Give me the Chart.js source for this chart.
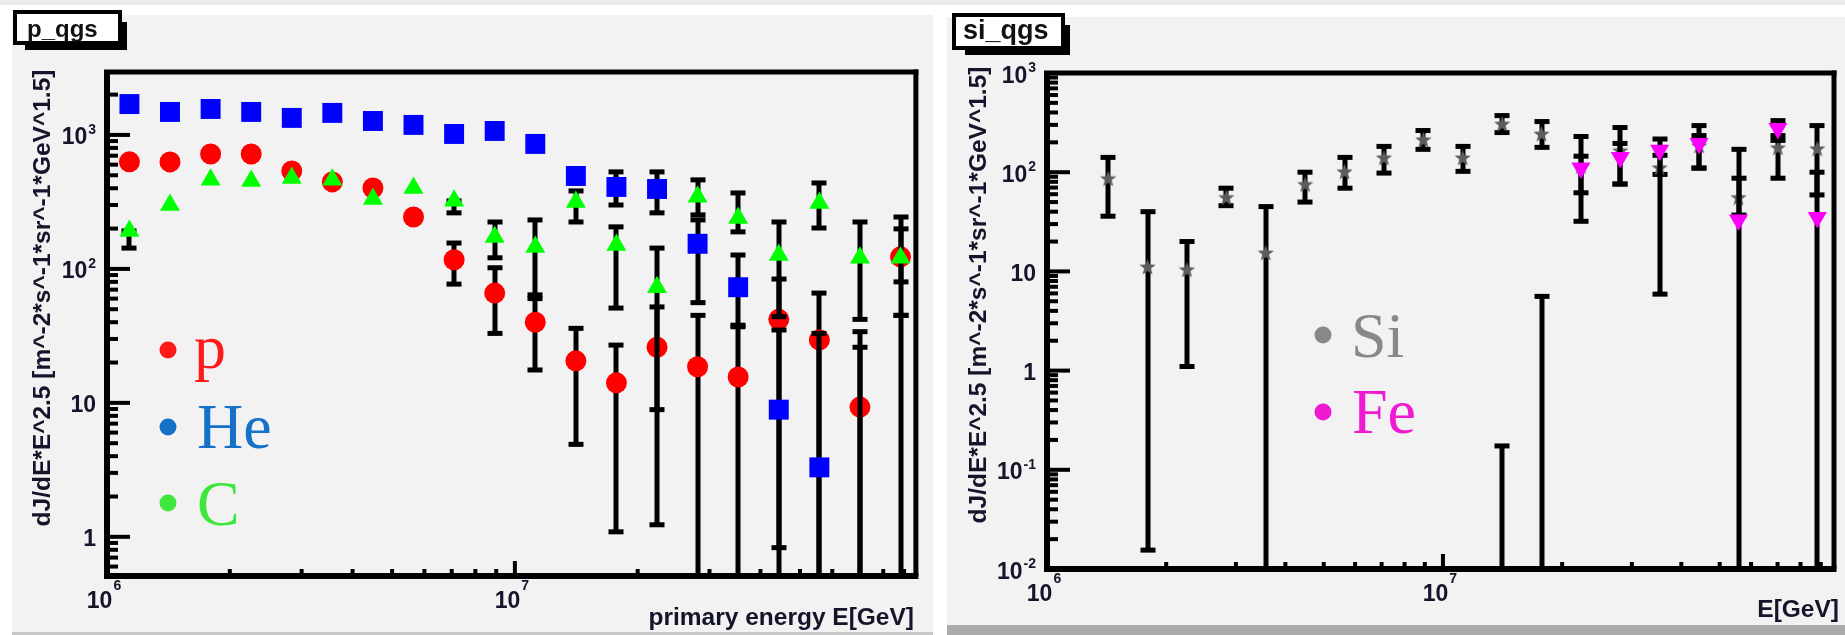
<!DOCTYPE html>
<html>
<head>
<meta charset="utf-8">
<script src="https://cdn.jsdelivr.net/npm/chart.js@4.4.1/dist/chart.umd.min.js"></script>
<style>
  body { margin: 0; width: 1845px; height: 635px; background: #fff; position: relative; overflow: hidden; }
  .band { position: absolute; }
  canvas { position: absolute; top: 0; }
</style>
</head>
<body>
<div class="band" style="left:0;top:0;width:1845px;height:5px;background:#ececec"></div>
<div class="band" style="left:12px;top:15px;width:921px;height:617px;background:#f2f2f2"></div>
<div class="band" style="left:12px;top:632px;width:921px;height:3px;background:#c8c8c8"></div>
<div class="band" style="left:947px;top:17px;width:898px;height:608px;background:#f2f2f2"></div>
<div class="band" style="left:947px;top:625px;width:898px;height:10px;background:#ababab"></div>
<canvas id="left" width="930" height="635" style="left:0"></canvas>
<canvas id="right" width="915" height="635" style="left:930px"></canvas>
<script>
// bin centres, primary energy [GeV]
const energy = [1.135e6, 1.427e6, 1.795e6, 2.257e6, 2.838e6, 3.568e6, 4.487e6, 5.642e6, 7.096e6, 8.923e6,
                1.122e7, 1.411e7, 1.774e7, 2.231e7, 2.805e7, 3.527e7, 4.436e7, 5.578e7, 7.015e7, 8.82e7];

// p_qgs pad. Hi/Lo are the error bar ends, 0 = bar runs down to the frame
const pFlux  = [630, 629, 721, 721, 539, 446, 402, 244, 117, 66, 40, 20.6, 14.1, 26, 18.6, 15.6, 42, 29.5, 9.3, 123];
const pHi    = [null, null, null, null, null, null, null, null, 156, 102, 60, 36, 27, 52, 45, 37, 84, 66, 34, 244];
const pLo    = [null, null, null, null, null, null, null, null, 77, 33, 17.6, 4.9, 1.09, 1.23, 0, 0, 0, 0, 0, 80];
const heFlux = [1700, 1485, 1563, 1485, 1340, 1460, 1271, 1188, 1017, 1071, 857, 494, 409, 395, 154, 73, 8.9, 3.3, null, null];
const heHi   = [null, null, null, null, null, null, null, null, null, null, null, 530, 530, 530, 232, 127, 35, 33, 26, 45];
const heLo   = [null, null, null, null, null, null, null, null, null, null, null, 438, 300, 262, 56, 38, 0.83, 0, 0, 0];
const cFlux  = [192, 300, 462, 454, 478, 462, 333, 402, 322, 173, 146, 316, 151, 73, 345, 240, 127, 311, 121, 121];
const cHi    = [192, null, null, null, null, null, null, null, 322, 224, 232, 382, 206, 143, 462, 369, 224, 438, 224, 199];
const cLo    = [143, null, null, null, null, null, null, null, 262, 121, 64, 224, 51, 8.9, 253, 189, 44, 202, 42, 45];

// si_qgs pad
const siFlux = [null, 87, 11.2, 10.5, 56, 15.5, 76, 102, 141, 214, 141, 309, 245, 115, 166, 112, 186, 56, 178, 174];
const siHi   = [null, 141, 40, 20, 69, 45, 100, 141, 182, 263, 182, 372, 324, 229, 282, 148, 295, 87, 234, 295];
const siLo   = [null, 36, 0.0155, 1.1, 46, 0, 50, 69, 98, 170, 102, 251, 178, 62, 76, 95, 110, 37, 87, 59];
const feFlux = [null, null, null, null, null, null, null, null, null, null, null, null, null, 110, 141, 166, 195, 33, 275, 35];
const feHi   = [null, null, null, null, null, null, null, null, null, null, null, 0.174, 5.6, 145, 195, 216, 234, 170, 331, 100];
const feLo   = [null, null, null, null, null, null, null, null, null, null, null, 0, 0, 32, 76, 5.9, 110, 0, 209, 0];

// axis labels
const xTicks = [1e6, 1e7];
const xTickLabels = ['10^6', '10^7'];
const leftYTicks = [1, 10, 100, 1000];
const leftYTickLabels = ['1', '10', '10^2', '10^3'];
const rightYTicks = [0.01, 0.1, 1, 10, 100, 1000];
const rightYTickLabels = ['10^-2', '10^-1', '1', '10', '10^2', '10^3'];
const yTitle = 'dJ/dE*E^2.5 [m^-2*s^-1*sr^-1*GeV^1.5]';

const leftSpecies = ['p', 'He', 'C'];
const leftLegendColors = ['#ff1a1a', '#1570c8', '#3ee63e'];
const rightSpecies = ['Si', 'Fe'];
const rightLegendColors = ['#888888', '#f01ad2'];

const SANS = '"Liberation Sans", Arial, sans-serif';
const INK = '#14142a';

function starMarker(size, color) {
  const c = document.createElement('canvas');
  c.width = c.height = size;
  const g = c.getContext('2d');
  g.fillStyle = color;
  g.beginPath();
  for (let i = 0; i < 10; i++) {
    const r = i % 2 ? size * 0.21 : size / 2;
    const a = -Math.PI / 2 + i * Math.PI / 5;
    g.lineTo(size / 2 + r * Math.cos(a), size / 2 + 1 + r * Math.sin(a));
  }
  g.closePath();
  g.fill();
  return c;
}

function series(label, flux, hi, lo, style) {
  return Object.assign({
    label,
    data: energy.map((x, i) => ({ x, y: flux[i] })),
    errHi: hi,
    errLo: lo,
    pointBorderWidth: 0,
  }, style);
}

function drawErrors(chart, ds) {
  if (!ds.errHi) return;
  const { ctx, chartArea: a, scales: { x, y } } = chart;
  ctx.save();
  ctx.beginPath();
  ctx.rect(a.left, a.top, a.right - a.left, a.bottom - a.top);
  ctx.clip();
  ctx.fillStyle = '#000';
  ds.errHi.forEach((hi, i) => {
    const lo = ds.errLo[i];
    if (hi == null || lo == null) return;
    const px = Math.round(x.getPixelForValue(ds.data[i].x));
    const top = y.getPixelForValue(hi);
    const bot = lo > 0 ? y.getPixelForValue(lo) : a.bottom;
    ctx.fillRect(px - 2.5, top, 5, bot - top);
    ctx.fillRect(px - 7.5, top - 2.5, 15, 5);
    if (lo > 0) ctx.fillRect(px - 7.5, bot - 2.5, 15, 5);
  });
  ctx.restore();
}

function eachLogTick(scale, fn) {
  const e0 = Math.floor(Math.log10(scale.min) + 1e-9);
  const e1 = Math.floor(Math.log10(scale.max) + 1e-9);
  for (let e = e0; e <= e1; e++) {
    for (let m = 1; m <= 9; m++) {
      const v = m * Math.pow(10, e);
      if (v >= scale.min * 0.999 && v <= scale.max * 1.001) fn(v, m === 1);
    }
  }
}

// "10^3" -> 10 with a raised 3
function powText(ctx, text, x, baseY, align, raise) {
  const [base, exp] = text.split('^');
  ctx.font = 'bold 23px ' + SANS;
  const bw = ctx.measureText(base).width;
  ctx.font = 'bold 14px ' + SANS;
  const ew = exp ? ctx.measureText(exp).width + 1 : 0;
  const x0 = align === 'right' ? x - bw - ew : x - (bw + ew) / 2;
  ctx.textAlign = 'left';
  ctx.textBaseline = 'alphabetic';
  ctx.font = 'bold 23px ' + SANS;
  ctx.fillText(base, x0, baseY);
  if (exp) {
    ctx.font = 'bold 14px ' + SANS;
    ctx.fillText(exp, x0 + bw + 1, baseY - raise);
  }
}

function drawFrame(chart, pad) {
  const { ctx, chartArea: a, scales: { x, y } } = chart;
  ctx.save();
  ctx.fillStyle = '#000';
  eachLogTick(y, (v, major) => {
    ctx.fillRect(a.left, y.getPixelForValue(v) - 2, major ? 23 : 11, 4);
  });
  eachLogTick(x, (v, major) => {
    const len = major ? 15 : 7;
    ctx.fillRect(x.getPixelForValue(v) - 2, a.bottom - len, 4, len);
  });
  ctx.fillRect(a.left - 3, a.top, 6, a.bottom - a.top + 3);
  ctx.fillRect(a.left - 3, a.bottom - 3, a.right - a.left + 5.5, 6);
  ctx.fillRect(a.left - 3, a.top - 2.5, a.right - a.left + 5.5, 5);
  ctx.fillRect(a.right - 2.5, a.top - 2.5, 5, a.bottom - a.top + 2.5);

  ctx.fillStyle = INK;
  pad.yTicks.forEach((v, i) => powText(ctx, pad.yLabels[i], a.left - 11, y.getPixelForValue(v) + 9.5, 'right', 10.5));
  xTicks.forEach((v, i) => powText(ctx, xTickLabels[i], x.getPixelForValue(v) - 3, a.bottom + 32, 'center', 18));

  ctx.font = 'bold 24.5px ' + SANS;
  ctx.textAlign = 'right';
  ctx.textBaseline = 'alphabetic';
  ctx.fillText(pad.xTitle, pad.xTitleAt[0], pad.xTitleAt[1]);
  ctx.save();
  ctx.translate(pad.yTitleAt[0], pad.yTitleAt[1]);
  ctx.rotate(-Math.PI / 2);
  ctx.textAlign = 'center';
  ctx.textBaseline = 'middle';
  ctx.fillText(yTitle, 0, 0);
  ctx.restore();
  ctx.restore();
}

function drawDecor(chart, pad) {
  const ctx = chart.ctx;
  const b = pad.box;
  ctx.save();
  ctx.fillStyle = '#000';
  ctx.fillRect(b.shadow[0], b.shadow[1], b.shadow[2], b.shadow[3]);
  ctx.fillRect(b.x, b.y, b.w, b.h);
  ctx.fillStyle = '#fff';
  ctx.fillRect(b.x + 4, b.y + 4, b.w - 8, b.h - 8);
  ctx.fillStyle = '#111';
  ctx.font = 'bold ' + b.size + 'px ' + SANS;
  ctx.textAlign = 'left';
  ctx.textBaseline = 'alphabetic';
  ctx.fillText(pad.title, b.tx, b.ty);

  // hand-written style legend
  ctx.font = '64px "Liberation Serif", "DejaVu Serif", serif';
  pad.legend.forEach((name, i) => {
    const e = pad.legendAt[i];
    ctx.fillStyle = pad.legendColors[i];
    ctx.beginPath();
    ctx.arc(e[0], e[1], 8.5, 0, Math.PI * 2);
    ctx.fill();
    ctx.fillText(name, e[2], e[3]);
  });
  ctx.restore();
}

function padChart(id, datasets, pad) {
  return new Chart(document.getElementById(id), {
    type: 'scatter',
    data: { datasets },
    options: {
      responsive: false,
      animation: false,
      devicePixelRatio: 1,
      events: [],
      layout: { padding: pad.padding },
      plugins: { legend: { display: false }, tooltip: { enabled: false } },
      scales: {
        x: { type: 'logarithmic', display: false, bounds: 'data', min: pad.xMin, max: pad.xMax },
        y: { type: 'logarithmic', display: false, bounds: 'data', min: pad.yMin, max: pad.yMax },
      },
    },
    plugins: [{
      id: 'rootPad',
      beforeDatasetDraw(chart, args) { drawErrors(chart, chart.data.datasets[args.index]); },
      afterDatasetsDraw(chart) { drawFrame(chart, pad); },
      afterDraw(chart) { drawDecor(chart, pad); },
    }],
  });
}

// first dataset is drawn on top
padChart('left', [
  series('C', cFlux, cHi, cLo, { pointStyle: 'triangle', pointRadius: 11.5, pointBackgroundColor: '#00ff00' }),
  series('He', heFlux, heHi, heLo, { pointStyle: 'rect', pointRadius: 14.1, pointBackgroundColor: '#0000ff' }),
  series('p', pFlux, pHi, pLo, { pointStyle: 'circle', pointRadius: 10.5, pointBackgroundColor: '#ff0000' }),
], {
  padding: { left: 107, top: 72, right: 14, bottom: 59 },
  xMin: 1e6, xMax: 9.62e7, yMin: 0.51, yMax: 2950,
  yTicks: leftYTicks, yLabels: leftYTickLabels,
  xTitle: 'primary energy E[GeV]', xTitleAt: [914, 625],
  yTitleAt: [43, 298],
  title: 'p_qgs',
  box: { x: 13, y: 10, w: 109, h: 35, shadow: [25, 22, 102, 28], size: 24, tx: 27, ty: 37 },
  legend: leftSpecies, legendColors: leftLegendColors,
  legendAt: [[168, 350, 194, 368], [168, 427, 197, 448], [168, 503, 197, 525]],
});

padChart('right', [
  series('Fe', feFlux, feHi, feLo, { pointStyle: 'triangle', pointRotation: 180, pointRadius: 11, pointBackgroundColor: '#fa00fa' }),
  series('Si', siFlux, siHi, siLo, { pointStyle: starMarker(17, '#5c5c5c'), pointRadius: 8 }),
], {
  padding: { left: 117, top: 73, right: 4, bottom: 66 },
  xMin: 1e6, xMax: 9.72e7, yMin: 0.01, yMax: 1000,
  yTicks: rightYTicks, yLabels: rightYTickLabels,
  xTitle: 'E[GeV]', xTitleAt: [909, 617],
  yTitleAt: [49, 295],
  title: 'si_qgs',
  box: { x: 22, y: 13, w: 113, h: 37, shadow: [35, 25, 105, 30], size: 27, tx: 33, ty: 39 },
  legend: rightSpecies, legendColors: rightLegendColors,
  legendAt: [[393, 335, 421, 357], [393, 412, 422, 433]],
});
</script>
</body>
</html>
